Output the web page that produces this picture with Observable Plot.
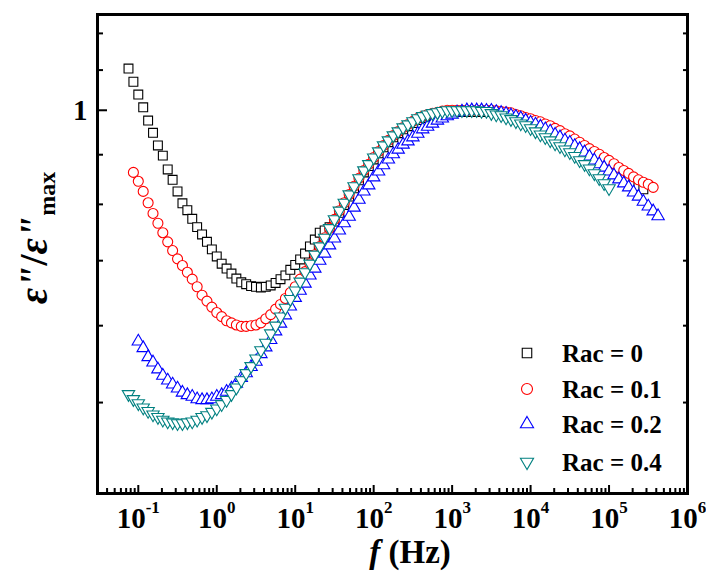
<!DOCTYPE html>
<html><head><meta charset="utf-8">
<script src="https://cdn.jsdelivr.net/npm/d3@7"></script>
<script src="https://cdn.jsdelivr.net/npm/@observablehq/plot@0.6"></script>
<style>
html,body{margin:0;padding:0;background:#fff;}
#chart{position:relative;width:706px;height:572px;}
</style></head><body><div id="chart"></div>
<script>
// Frequency grid (Hz)
const freq = [0.075,0.0866,
0.1,0.1155,0.1334,0.154,0.1778,0.2054,0.2371,0.2738,0.3162,0.3652,0.4217,0.487,0.5623,0.6494,0.7499,0.866,
1,1.155,1.334,1.54,1.778,2.054,2.371,2.738,3.162,3.652,4.217,4.87,5.623,6.494,7.499,8.66,
10,11.55,13.34,15.4,17.78,20.54,23.71,27.38,31.62,36.52,42.17,48.7,56.23,64.94,74.99,86.6,
100,115.5,133.4,154,177.8,205.4,237.1,273.8,316.2,365.2,421.7,487,562.3,649.4,749.9,866,
1000,1155,1334,1540,1778,2054,2371,2738,3162,3652,4217,4870,5623,6494,7499,8660,
10000,11550,13340,15400,17780,20540,23710,27380,31620,36520,42170,48700,56230,64940,74990,86600,
100000,115500,133400,154000,177800,205400,237100,273800,316200,365200,421700];

// ε''/ε''max for each Rac (null = no point at that frequency)
const rac0 = [1.104,1.070,1.038,1.007,.976,.948,.920,.898,.869,.848,
.825,.802,.789,.773,.758,.745,.732,.719,.707,.695,
.687,.679,.671,.665,.662,.659,.658,.657,.658,.660,
.664,.670,.676,.685,.693,.702,.712,.724,.736,.748,
.752,.758,.768,.784,.799,.815,.831,.847,.863,.876,
.890,.903,.916,.927,.938,.947,.956,.963,.970,.977,
.982,.986,.989,.991,.994,.996,.996,.996,.996,.996,
.996,.996,.996,.996,.996,.994,.992,.991,.989,.985,
.981,.977,.973,.969,.965,.960,.955,.949,.944,.937,
.931,.924,.916,.909,.902,.895,.890,.882,.875,.868,
.861,.854,.848,.841,.835,.829,null,null,null];

const rac01 = [null,.863,.845,.825,.803,.783,.765,.748,.732,.717,
.703,.692,.681,.670,.658,.645,.636,.627,.619,.613,
.607,.604,.601,.599,.599,.600,.601,.604,.610,.616,
.624,.631,.640,.649,.658,.670,.682,.695,.710,.724,
.739,.756,.772,.788,.803,.819,.835,.851,.867,.880,
.894,.907,.920,.931,.942,.951,.960,.967,.974,.981,
.986,.990,.993,.995,.998,1,1,1,1,1,
1,1,1,1,1,.999,.997,.996,.994,.990,
.987,.983,.980,.976,.973,.968,.964,.958,.953,.946,
.941,.934,.927,.920,.913,.907,.901,.894,.888,.881,
.873,.867,.861,.854,.848,.843,.839,.833,null];

const rac02 = [null,null,.578,.569,.557,.550,.541,.533,.527,.522,
.517,.512,.509,.507,.504,.503,.503,.504,.507,.509,
.513,.517,.523,.530,.536,.544,.551,.561,.570,.580,
.592,.603,.615,.628,.641,.652,.663,.676,.687,.700,
.712,.726,.738,.752,.765,.777,.794,.809,.825,.837,
.853,.865,.878,.890,.901,.911,.922,.929,.938,.946,
.956,.962,.969,.976,.981,.986,.990,.995,.997,1,
1,1,1,.999,.999,.996,.994,.992,.988,.985,
.981,.976,.971,.967,.962,.956,.951,.944,.938,.931,
.926,.919,.912,.905,.896,.888,.880,.873,.865,.857,
.849,.841,.833,.823,.815,.805,.796,.787,.778];

const rac04 = [.510,.504,.499,.494,.490,.486,.483,.480,.478,.477,
.476,.476,.477,.478,.480,.483,.485,.489,.493,.498,
.503,.510,.518,.527,.536,.545,.555,.566,.576,.589,
.600,.613,.626,.639,.652,.666,.681,.695,.710,.724,
.739,.756,.772,.788,.803,.819,.835,.851,.867,.880,
.894,.907,.920,.931,.942,.951,.960,.967,.974,.981,
.986,.990,.993,.995,.998,1,1,1,1,1,
1,1,.998,.998,.993,.990,.988,.983,.979,.974,
.969,.965,.958,.951,.944,.938,.931,.924,.918,.911,
.905,.897,.888,.880,.871,.861,.851,.841,.831,null,
null,null,null,null,null,null,null,null,null];

const seriesNames = ["Rac = 0", "Rac = 0.1", "Rac = 0.2", "Rac = 0.4"];
const seriesColors = ["#000000", "#ff0000", "#0000ff", "#008080"];

const xMajor = [0.1, 1, 10, 100, 1000, 10000, 100000, 1000000];
const xMinor = [0.04,0.05,0.06,0.07,0.08,0.09,
0.2,0.3,0.4,0.5,0.6,0.7,0.8,0.9,
2,3,4,5,6,7,8,9,
20,30,40,50,60,70,80,90,
200,300,400,500,600,700,800,900,
2000,3000,4000,5000,6000,7000,8000,9000,
20000,30000,40000,50000,60000,70000,80000,90000,
200000,300000,400000,500000,600000,700000,800000,900000];
const yMajor = [1];
const yMinor = [0.5, 0.6, 0.7, 0.8, 0.9, 1.1, 1.2];

const W = 706, H = 572, mL = 97, mR = 19, mT = 14, mB = 79;
const pw = W - mL - mR, ph = H - mT - mB;
const FONT = "'Liberation Serif','Times New Roman',serif";

function rows(vals, name) {
  return freq.map((f, i) => ({f, v: vals[i], s: name})).filter(d => d.v != null);
}
const d0 = rows(rac0, seriesNames[0]);
const d1 = rows(rac01, seriesNames[1]);
const d2 = rows(rac02, seriesNames[2]);
const d3s = rows(rac04, seriesNames[3]);

const plot = Plot.plot({
  width: W, height: H,
  marginLeft: mL, marginRight: mR, marginTop: mT, marginBottom: mB,
  x: {type: "log", domain: [0.0302, 1e6]},
  y: {type: "log", domain: [0.403, 1.255]},
  style: {fontFamily: FONT, fontWeight: "bold", background: "white", color: "black"},
  marks: [
    Plot.dot(d0, {x: "f", y: "v", symbol: "square", r: 5, stroke: seriesColors[0], fill: "white", strokeWidth: 1.1}),
    Plot.dot(d1, {x: "f", y: "v", symbol: "circle", r: 5, stroke: seriesColors[1], fill: "white", strokeWidth: 1.1}),
    Plot.dot(d2, {x: "f", y: "v", symbol: "triangle", r: 4.6, stroke: seriesColors[2], fill: "white", strokeWidth: 1.1}),
    Plot.dot(d3s, {x: "f", y: "v", symbol: "triangle", rotate: 180, r: 4.6, stroke: seriesColors[3], fill: "white", strokeWidth: 1.1}),
    // inward ticks
    Plot.tickX(xMajor, {x: d => d, insetTop: ph - 8, stroke: "black", strokeWidth: 2}),
    Plot.tickX(xMinor, {x: d => d, insetTop: ph - 5, stroke: "black", strokeWidth: 2}),
    Plot.tickY(yMajor, {y: d => d, insetRight: pw - 10, stroke: "black", strokeWidth: 2}),
    Plot.tickY(yMinor, {y: d => d, insetRight: pw - 6, stroke: "black", strokeWidth: 2}),
    Plot.tickY(yMajor.concat(yMinor), {y: d => d, insetLeft: pw - 4, stroke: "black", strokeWidth: 2}),
    Plot.frame({stroke: "black", strokeWidth: 3}),
    Plot.axisX({ticks: xMajor, tickSize: 0, tickPadding: 14, fontSize: 29, fontWeight: "bold",
      tickFormat: d => String(Math.round(Math.log10(d))), label: null}),
    Plot.axisY({ticks: yMajor, tickSize: 0, tickPadding: 10, fontSize: 29, fontWeight: "bold",
      tickFormat: d => "1", label: null})
  ]
});

const svg = d3.select(plot);
// superscript exponents on x tick labels
svg.selectAll("g[aria-label='x-axis tick label'] text").each(function() {
  const e = this.textContent;
  const t = d3.select(this);
  t.text(null).attr("font-size", 29).style("font-size", "29px");
  t.append("tspan").text("10");
  t.append("tspan").attr("dy", -15).style("font-size", "17px").text(e);
});
svg.selectAll("g[aria-label='y-axis tick label'] text").attr("font-size", 29).style("font-size", "29px");

// axis titles
const xt = svg.append("text").attr("x", 410).attr("y", 563).attr("text-anchor", "middle")
  .attr("font-family", FONT).attr("font-weight", "bold").attr("font-size", 33).attr("fill", "black");
xt.append("tspan").attr("font-style", "italic").text("f");
xt.append("tspan").text(" (Hz)");

const yt = svg.append("text").attr("transform", "translate(47,238) rotate(-90)").attr("text-anchor", "middle")
  .attr("font-family", FONT).attr("font-weight", "bold").attr("font-size", 40).attr("fill", "black");
yt.append("tspan").attr("font-style", "italic").text("ε\"");
yt.append("tspan").text("/");
yt.append("tspan").attr("font-style", "italic").text("ε\"");
yt.append("tspan").attr("font-size", 24).attr("dy", 8).text("max");

// legend
const legSyms = [d3.symbol(d3.symbolSquare, 90), d3.symbol(d3.symbolCircle, 95), d3.symbol(d3.symbolTriangle, 75), d3.symbol(d3.symbolTriangle, 75)];
const legRows = [353, 389, 424, 462];
const leg = svg.append("g").attr("font-family", FONT).attr("font-weight", "bold").attr("font-size", 25).attr("text-anchor", "start");
seriesNames.forEach((name, i) => {
  leg.append("path").attr("d", legSyms[i]()).attr("transform", `translate(527,${legRows[i]})` + (i === 3 ? " rotate(180)" : ""))
    .attr("fill", "white").attr("stroke", seriesColors[i]).attr("stroke-width", 1.1);
  leg.append("text").attr("x", 562).attr("y", legRows[i] + 9).attr("text-anchor", "start").attr("fill", "black").text(name);
});

document.getElementById("chart").appendChild(plot);
</script>
</body></html>
